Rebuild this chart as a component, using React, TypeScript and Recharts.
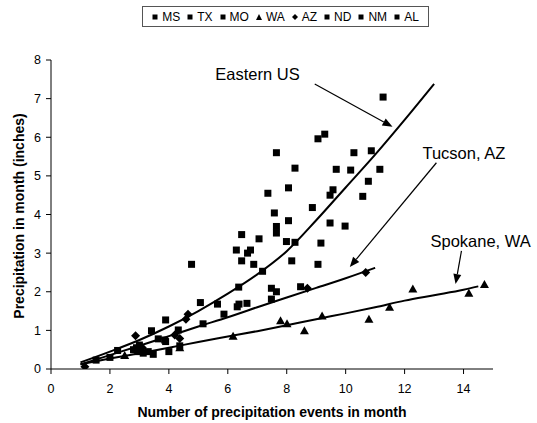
import {
  ComposedChart,
  Line,
  ReferenceLine,
  Scatter,
  XAxis,
  YAxis,
} from 'recharts';

// x ticks / y ticks
const xTicks = [0, 2, 4, 6, 8, 10, 12, 14];
const yTicks = [0, 1, 2, 3, 4, 5, 6, 7, 8];

// [events in month, precipitation inches]
const msPts = [
  [11.27, 7.04], [9.06, 5.96], [9.29, 6.08], [10.28, 5.6], [10.87, 5.65], [9.68, 5.17],
  [10.17, 5.15], [11.16, 5.17], [10.77, 4.86], [10.58, 4.47], [9.98, 3.7],
];
const txPts = [
  [7.65, 5.6], [8.28, 5.2], [8.06, 4.69], [7.36, 4.55], [9.57, 4.64], [9.47, 4.5],
  [8.87, 4.18], [7.58, 4.04], [9.47, 3.78], [9.16, 3.26], [9.06, 2.71],
];
const moPts = [
  [8.06, 3.84], [7.65, 3.69], [7.65, 3.52], [6.47, 3.48], [7.06, 3.37], [7.99, 3.3],
  [8.28, 3.28], [6.29, 3.08], [6.77, 3.08], [6.67, 3.0], [8.17, 2.8],
];
const waPts = [
  [2.5, 0.35], [4.37, 0.55], [6.18, 0.85], [7.79, 1.25], [8.01, 1.17], [8.6, 0.99],
  [9.2, 1.37], [10.79, 1.29], [11.49, 1.6], [12.28, 2.07], [14.18, 1.96], [14.71, 2.19],
];
const azPts = [
  [1.15, 0.06], [2.87, 0.86], [4.2, 0.88], [4.37, 0.79], [4.65, 1.42], [4.58, 1.29],
  [8.7, 2.09], [10.68, 2.5], [3.1, 0.55],
];
const ndPts = [
  [5.07, 1.72], [5.65, 1.68], [5.87, 1.42], [5.16, 1.17], [3.89, 1.27], [3.41, 0.99],
  [4.32, 1.01], [3.64, 0.78], [3.86, 0.75], [3.89, 0.71],
];
const nmPts = [
  [4.37, 0.6], [4.0, 0.45], [3.47, 0.38], [2.26, 0.48], [1.53, 0.23], [2.9, 0.55],
  [3.0, 0.62], [2.95, 0.45], [3.13, 0.41], [2.8, 0.5], [3.3, 0.45], [2.0, 0.3],
];
const alPts = [
  [6.47, 2.8], [6.88, 2.71], [4.77, 2.71], [7.18, 2.53], [6.37, 2.12], [7.48, 2.09],
  [7.65, 2.0], [7.48, 1.81], [8.47, 2.13], [6.65, 1.7], [6.38, 1.68], [6.32, 1.61],
];

// fitted curves
const easternX = [1, 2, 3, 4, 5, 6, 7, 8, 9, 10, 11, 12, 13];
const easternY = [0.17, 0.45, 0.75, 1.1, 1.5, 1.95, 2.45, 3.05, 3.85, 4.7, 5.55, 6.45, 7.38];
const tucsonX = [1, 2, 3, 4, 5, 6, 7, 8, 9, 10, 11];
const tucsonY = [0.12, 0.36, 0.6, 0.85, 1.1, 1.34, 1.6, 1.85, 2.1, 2.35, 2.62];
const spokaneX = [1, 2, 3, 4, 5, 6, 7, 8, 9, 10, 11, 12, 13, 14, 14.5];
const spokaneY = [0.12, 0.27, 0.41, 0.55, 0.7, 0.84, 0.98, 1.13, 1.29, 1.44, 1.6, 1.77, 1.91, 2.05, 2.14];

const series = [
  { name: 'MS', pts: msPts, marker: 'square' },
  { name: 'TX', pts: txPts, marker: 'square' },
  { name: 'MO', pts: moPts, marker: 'square' },
  { name: 'WA', pts: waPts, marker: 'triangle' },
  { name: 'AZ', pts: azPts, marker: 'diamond' },
  { name: 'ND', pts: ndPts, marker: 'square' },
  { name: 'NM', pts: nmPts, marker: 'square' },
  { name: 'AL', pts: alPts, marker: 'square' },
];

const fits = [
  { name: 'Eastern US', xs: easternX, ys: easternY },
  { name: 'Tucson, AZ', xs: tucsonX, ys: tucsonY },
  { name: 'Spokane, WA', xs: spokaneX, ys: spokaneY },
];

// arrow tail -> tip, in data units
const notes = [
  { text: 'Eastern US', from: { x: 8.95, y: 7.38 }, to: { x: 11.59, y: 6.27 }, anchor: 'end', dx: -15 },
  { text: 'Tucson, AZ', from: { x: 13.08, y: 5.34 }, to: { x: 10.14, y: 2.64 }, anchor: 'start', dx: -14 },
  { text: 'Spokane, WA', from: { x: 13.93, y: 3.06 }, to: { x: 13.73, y: 2.2 }, anchor: 'start', dx: -31 },
];

const FONT = '"Liberation Sans", Arial, sans-serif';

function Marker({ cx, cy, kind }: { cx: number; cy: number; kind: string }) {
  if (kind === 'triangle') {
    return <polygon points={`${cx},${cy - 4.5} ${cx + 4.5},${cy + 3.5} ${cx - 4.5},${cy + 3.5}`} fill="#000" />;
  }
  if (kind === 'diamond') {
    return <polygon points={`${cx},${cy - 4.5} ${cx + 4.5},${cy} ${cx},${cy + 4.5} ${cx - 4.5},${cy}`} fill="#000" />;
  }
  return <rect x={cx - 3.5} y={cy - 3.5} width={7} height={7} fill="#000" />;
}

function arrowShape(note: (typeof notes)[number]) {
  return (props: any) => {
    const { x1, y1, x2, y2 } = props;
    const ang = Math.atan2(y2 - y1, x2 - x1);
    const len = 10;
    const hw = 4;
    const bx = x2 - len * Math.cos(ang);
    const by = y2 - len * Math.sin(ang);
    const px = -Math.sin(ang) * hw;
    const py = Math.cos(ang) * hw;
    return (
      <g>
        <line x1={x1} y1={y1} x2={bx} y2={by} stroke="#000" strokeWidth={1.2} />
        <polygon points={`${x2},${y2} ${bx + px},${by + py} ${bx - px},${by - py}`} fill="#000" />
        <text
          x={x1 + note.dx}
          y={y1 - 4}
          textAnchor={note.anchor as any}
          fontFamily={FONT}
          fontSize={16.5}
          fill="#000"
        >
          {note.text}
        </text>
      </g>
    );
  };
}

function LegendBox() {
  return (
    <div
      style={{
        position: 'absolute',
        left: 142,
        top: 6,
        width: 285,
        height: 19,
        border: '1px solid #555',
        display: 'flex',
        alignItems: 'center',
        justifyContent: 'center',
        gap: 7,
        fontFamily: FONT,
        fontSize: 12,
        color: '#000',
      }}
    >
      {series.map((s) => (
        <span key={s.name} style={{ display: 'flex', alignItems: 'center', gap: 4 }}>
          <svg width={6} height={6}>
            {s.marker === 'triangle' && <polygon points="3,0 6,6 0,6" fill="#000" />}
            {s.marker === 'diamond' && <polygon points="3,0 6,3 3,6 0,3" fill="#000" />}
            {s.marker === 'square' && <rect x={0.5} y={0.5} width={5} height={5} fill="#000" />}
          </svg>
          {s.name}
        </span>
      ))}
    </div>
  );
}

export default function App() {
  const tick = { fill: '#000', fontSize: 12.5, fontFamily: FONT };
  return (
    <div style={{ position: 'absolute', left: 0, top: 0, width: 537, height: 423, background: '#fff' }}>
      <ComposedChart width={537} height={423} margin={{ top: 60, right: 44, bottom: 0, left: 0 }}>
        <XAxis
          type="number"
          dataKey="x"
          domain={[0, 15]}
          ticks={xTicks}
          tick={tick}
          tickSize={5}
          tickMargin={10}
          height={54}
          stroke="#000"
          allowDataOverflow
        />
        <YAxis
          type="number"
          dataKey="y"
          domain={[0, 8]}
          ticks={yTicks}
          tick={tick}
          tickSize={5}
          tickMargin={5}
          width={51}
          stroke="#000"
          allowDataOverflow
        />
        {series.map((s) => (
          <Scatter
            key={s.name}
            name={s.name}
            data={s.pts.map(([x, y]) => ({ x, y }))}
            isAnimationActive={false}
            shape={(p: any) => <Marker cx={p.cx} cy={p.cy} kind={s.marker} />}
          />
        ))}
        {fits.map((f) => (
          <Line
            key={f.name}
            name={f.name}
            data={f.xs.map((x, i) => ({ x, y: f.ys[i] }))}
            dataKey="y"
            type="monotone"
            stroke="#000"
            strokeWidth={2}
            dot={false}
            activeDot={false}
            isAnimationActive={false}
          />
        ))}
        {notes.map((n) => (
          <ReferenceLine key={n.text} segment={[n.from, n.to]} shape={arrowShape(n)} />
        ))}
      </ComposedChart>
      <LegendBox />
      <div
        style={{
          position: 'absolute',
          left: 0,
          top: 404,
          width: 544,
          textAlign: 'center',
          fontFamily: FONT,
          fontWeight: 'bold',
          fontSize: 14,
        }}
      >
        Number of precipitation events in month
      </div>
      <div
        style={{
          position: 'absolute',
          left: 19,
          top: 216,
          transform: 'translate(-50%, -50%) rotate(-90deg)',
          whiteSpace: 'nowrap',
          fontFamily: FONT,
          fontWeight: 'bold',
          fontSize: 14,
        }}
      >
        Precipitation in month (inches)
      </div>
    </div>
  );
}
